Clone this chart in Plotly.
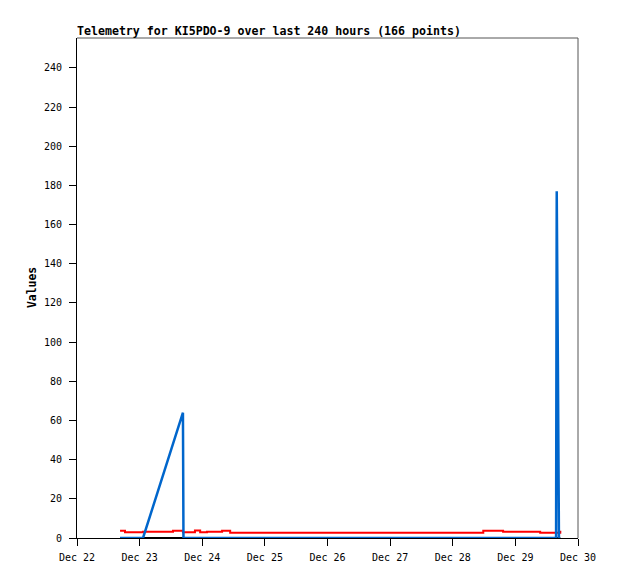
import pandas as pd
import plotly.graph_objects as go

base = pd.Timestamp("2023-12-22 00:00")

# hours since Dec 22 00:00
black_hours = [16.5, 185.2]
black_vals = [0, 0]

blue_hours = [16.5, 25.3, 40.6, 40.8, 183.6, 183.85, 184.3, 184.7, 185.2]
blue_vals = [0, 0, 64, 0, 0, 177, 88, 0, 0]

red_hours = [16.5, 18.4, 25.3, 36.8, 40.6, 45.2, 47.2, 49.8, 55.6, 58.7,
             155.7, 163.3, 177.5, 185.2, 185.6]
red_vals = [3.7, 2.9, 3.2, 3.7, 2.9, 3.8, 2.9, 3.2, 3.7, 2.7,
            3.7, 3.2, 2.7, 3.2, 3.2]

y_ticks = [0, 20, 40, 60, 80, 100, 120, 140, 160, 180, 200, 220, 240]
x_tick_days = ["2023-12-22", "2023-12-23", "2023-12-24", "2023-12-25", "2023-12-26",
               "2023-12-27", "2023-12-28", "2023-12-29", "2023-12-30"]
x_tick_labels = ["Dec 22", "Dec 23", "Dec 24", "Dec 25", "Dec 26",
                 "Dec 27", "Dec 28", "Dec 29", "Dec 30"]


def to_time(hours):
    return [base + pd.Timedelta(hours=h) for h in hours]


fig = go.Figure()
fig.add_trace(go.Scatter(x=to_time(black_hours), y=black_vals, mode="lines",
                         line=dict(color="black", width=2), showlegend=False))
fig.add_trace(go.Scatter(x=to_time(red_hours), y=red_vals, mode="lines",
                         line=dict(color="#ff0000", width=2, shape="hv"), showlegend=False))
fig.add_trace(go.Scatter(x=to_time(blue_hours), y=blue_vals, mode="lines",
                         line=dict(color="#0066cc", width=2.5), showlegend=False))

mono = "DejaVu Sans Mono"
fig.update_layout(
    width=618, height=579,
    margin=dict(l=69, r=48, t=30, b=49),
    plot_bgcolor="white", paper_bgcolor="white",
    title=dict(text="<b>Telemetry for KI5PDO-9 over last 240 hours (166 points)</b>",
               x=69 / 618, xanchor="left", xref="container",
               y=1 - 23 / 579, yanchor="middle", yref="container",
               font=dict(family=mono, size=11.6, color="black")),
    font=dict(family=mono, size=10, color="black"),
    xaxis=dict(range=[pd.Timestamp("2023-12-22"), pd.Timestamp("2023-12-30")],
               tickvals=[pd.Timestamp(d) for d in x_tick_days], ticktext=x_tick_labels,
               showgrid=False, zeroline=False, showline=True, linecolor="black", linewidth=1,
               ticks="outside", ticklen=7, tickcolor="black", ticklabelstandoff=3,
               tickfont=dict(family=mono, size=10)),
    yaxis=dict(range=[0, 255.3], tickvals=y_ticks,
               showgrid=False, zeroline=False, showline=True, linecolor="black", linewidth=1,
               ticks="outside", ticklen=7, tickcolor="black", ticklabelstandoff=5,
               tickfont=dict(family=mono, size=10)),
    annotations=[dict(text="<b>Values</b>", textangle=-90, xref="paper", yref="paper",
                      x=0, y=0.5, xanchor="center", yanchor="middle", xshift=-45,
                      showarrow=False,
                      font=dict(family=mono, size=11.4, color="black"))],
    shapes=[
        dict(type="line", xref="paper", yref="paper", x0=0, x1=1, y0=1, y1=1,
             line=dict(color="#555555", width=1)),
        dict(type="line", xref="paper", yref="paper", x0=1, x1=1, y0=0, y1=1,
             line=dict(color="#555555", width=1)),
    ],
)

fig.write_html("out.html")
